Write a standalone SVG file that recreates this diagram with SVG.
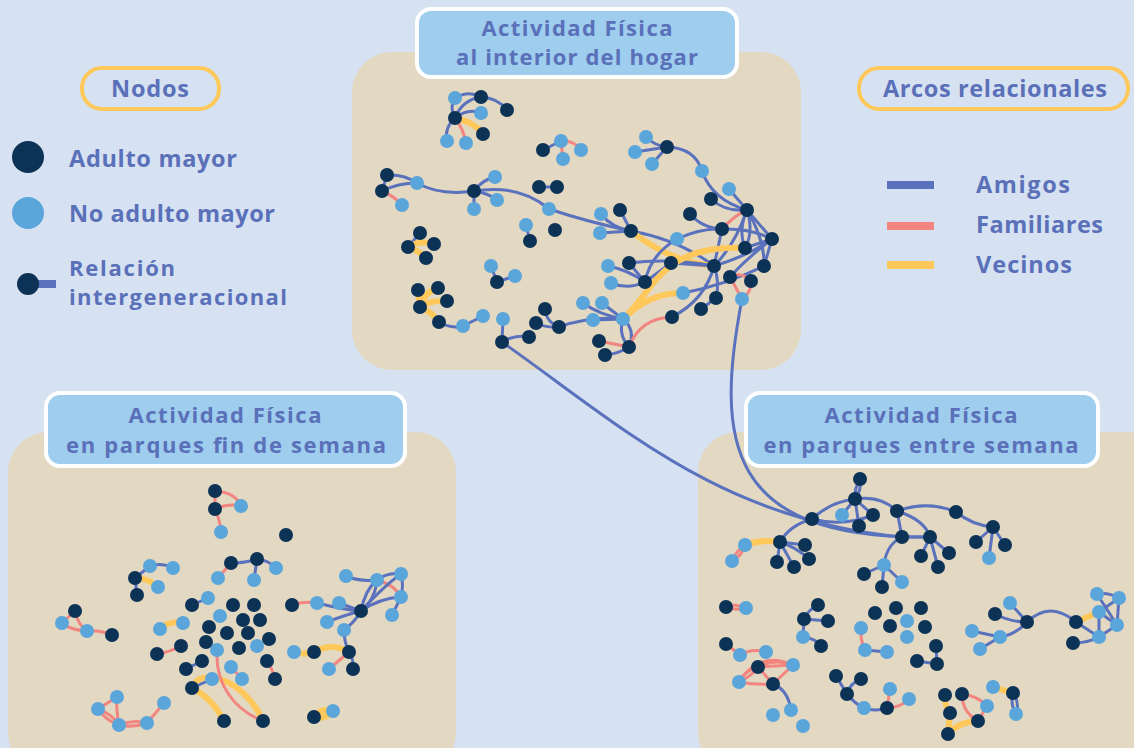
<svg xmlns="http://www.w3.org/2000/svg" width="1134" height="748" viewBox="0 0 1134 748">
<defs>
<style>
.a{stroke:#5a72bd;stroke-width:3;fill:none;stroke-linecap:round}
.f{stroke:#f2857f;stroke-width:3;fill:none;stroke-linecap:round}
.v{stroke:#ffc85a;stroke-width:6;fill:none;stroke-linecap:round}
.d{fill:#0c3256}
.l{fill:#5aa5da}
.txt{font-family:"Open Sans","Liberation Sans",sans-serif;font-weight:700;fill:#5a70b9;font-size:23.5px}
.two{font-size:22px}
.panel{fill:#e3d8c2}
.title{fill:#9ecdee;stroke:#ffffff;stroke-width:4}
.leg{fill:none;stroke:#ffc85a;stroke-width:4}
</style>
</defs>
<rect x="0" y="0" width="1134" height="748" fill="#d6e2f2"/>
<g id="panels">
<rect class="panel" x="352" y="52" width="449" height="318" rx="40"/>
<rect class="panel" x="8" y="432" width="448" height="340" rx="40"/>
<rect class="panel" x="698" y="432" width="470" height="340" rx="40"/>
</g>
<g id="title-top"><rect class="title" x="417" y="9" width="320" height="68" rx="14"/>
<text class="txt two" x="577" y="36" text-anchor="middle" textLength="191">Actividad Física</text>
<text class="txt two" x="577" y="65" text-anchor="middle" textLength="242">al interior del hogar</text></g>
<g id="title-bl"><rect class="title" x="46" y="393" width="359" height="73" rx="14"/>
<text class="txt two" x="225" y="423" text-anchor="middle" textLength="193">Actividad Física</text>
<text class="txt two" x="226" y="453" text-anchor="middle" textLength="320">en parques fin de semana</text></g>
<g id="title-br"><rect class="title" x="746" y="393" width="352" height="73" rx="14"/>
<text class="txt two" x="921" y="423" text-anchor="middle" textLength="193">Actividad Física</text>
<text class="txt two" x="921" y="453" text-anchor="middle" textLength="315">en parques entre semana</text></g>
<g id="legend-nodos"><rect class="leg" x="82" y="68" width="137" height="41" rx="20"/>
<text class="txt" x="150" y="97" text-anchor="middle" textLength="78">Nodos</text>
<circle class="d" cx="28" cy="157" r="16"/>
<text class="txt" x="69" y="167" textLength="168">Adulto mayor</text>
<circle class="l" cx="28" cy="213" r="16"/>
<text class="txt" x="69" y="222" textLength="206">No adulto mayor</text>
<rect x="35" y="280" width="21" height="8" fill="#5a72bd"/>
<circle class="d" cx="28" cy="284" r="11"/>
<text class="txt two" x="69" y="276" textLength="106">Relación</text>
<text class="txt two" x="69" y="305" textLength="218">intergeneracional</text></g>
<g id="legend-arcos"><rect class="leg" x="859" y="68" width="269" height="41" rx="20"/>
<text class="txt" x="995" y="97" text-anchor="middle" textLength="224">Arcos relacionales</text>
<rect x="887" y="181" width="47" height="8" fill="#5a72bd"/>
<rect x="887" y="222" width="47" height="8" fill="#f2857f"/>
<rect x="887" y="261" width="47" height="8" fill="#ffc85a"/>
<text class="txt" x="976" y="193" textLength="94">Amigos</text>
<text class="txt" x="976" y="233" textLength="127">Familiares</text>
<text class="txt" x="976" y="273" textLength="96">Vecinos</text></g>
<g id="connectors">
<path class="a" d="M455,98 Q468,90 481,97"/>
<path class="a" d="M481,97 Q498,98 507,110"/>
<path class="a" d="M455,118 Q449,108 455,98"/>
<path class="a" d="M455,118 Q468,108 481,113"/>
<path class="a" d="M455,118 Q462,100 481,97"/>
<path class="a" d="M455,118 Q444,128 447,141"/>
<path class="v" d="M455,118 Q474,122 483,134"/>
<path class="f" d="M455,118 Q463,128 466,143"/>
<path class="a" d="M543,150 L561,141"/>
<path class="f" d="M561,141 L563,159"/>
<path class="f" d="M561,141 Q574,140 581,150"/>
<path class="a" d="M387,175 Q404,174 417,183"/>
<path class="a" d="M382,191 Q398,183 417,183"/>
<path class="a" d="M387,175 L382,191"/>
<path class="f" d="M382,191 Q394,196 402,205"/>
<path class="a" d="M417,183 Q440,196 474,191"/>
<path class="a" d="M474,191 Q482,180 495,177"/>
<path class="a" d="M474,191 Q488,193 497,200"/>
<path class="a" d="M474,191 L474,209"/>
<path class="a" d="M474,191 Q520,184 549,209"/>
<path class="a" d="M549,209 Q588,222 631,231"/>
<path class="a" d="M539,187 L557,187"/>
<path class="a" d="M526,225 L530,241"/>
<path class="a" d="M420,233 L408,247"/>
<path class="v" d="M408,247 Q420,240 434,244"/>
<path class="v" d="M408,247 Q418,250 426,258"/>
<path class="a" d="M491,266 L497,282"/>
<path class="a" d="M497,282 L515,276"/>
<path class="v" d="M420,307 L418,290"/>
<path class="v" d="M420,307 Q424,292 438,288"/>
<path class="v" d="M420,307 Q430,300 447,301"/>
<path class="v" d="M420,307 Q432,312 439,322"/>
<path class="a" d="M439,322 Q450,329 463,326"/>
<path class="a" d="M463,326 L483,316"/>
<path class="a" d="M503,319 L502,342"/>
<path class="a" d="M502,342 Q515,334 529,337"/>
<path class="a" d="M545,309 Q546,322 559,327"/>
<path class="a" d="M536,323 Q546,328 559,327"/>
<path class="a" d="M559,327 Q590,316 623,319"/>
<path class="a" d="M583,303 Q600,315 623,319"/>
<path class="a" d="M602,303 L623,319"/>
<path class="a" d="M593,320 L623,319"/>
<path class="f" d="M599,341 L629,347"/>
<path class="a" d="M605,355 Q618,354 629,347"/>
<path class="a" d="M623,319 Q618,335 629,347"/>
<path class="a" d="M623,319 Q636,330 629,347"/>
<path class="f" d="M629,347 Q640,318 672,317"/>
<path class="a" d="M672,317 Q705,300 714,266"/>
<path class="a" d="M701,309 L716,298"/>
<path class="a" d="M716,298 Q720,282 714,266"/>
<path class="a" d="M646,137 Q655,146 667,147"/>
<path class="a" d="M635,152 L667,147"/>
<path class="a" d="M652,164 L667,147"/>
<path class="a" d="M667,147 Q695,148 702,171"/>
<path class="a" d="M702,171 Q712,200 747,210"/>
<path class="a" d="M729,189 L747,210"/>
<path class="a" d="M711,199 Q725,212 747,210"/>
<path class="a" d="M620,210 L631,231"/>
<path class="a" d="M601,214 Q612,228 631,231"/>
<path class="a" d="M600,233 L631,231"/>
<path class="a" d="M690,214 Q702,228 722,229"/>
<path class="a" d="M677,239 Q700,228 722,229"/>
<path class="f" d="M722,229 Q736,214 747,210"/>
<path class="a" d="M747,210 L772,239"/>
<path class="a" d="M722,229 Q750,228 772,239"/>
<path class="a" d="M747,210 Q738,230 745,248"/>
<path class="a" d="M747,210 Q754,232 745,248"/>
<path class="a" d="M722,229 L714,266"/>
<path class="a" d="M747,210 Q735,245 714,266"/>
<path class="a" d="M747,210 Q765,240 764,266"/>
<path class="a" d="M772,239 L764,266"/>
<path class="a" d="M772,239 Q750,255 714,266"/>
<path class="a" d="M772,239 L745,248"/>
<path class="a" d="M631,231 Q680,240 714,266"/>
<path class="v" d="M631,231 Q670,262 714,266"/>
<path class="a" d="M629,263 Q670,258 714,266"/>
<path class="a" d="M671,263 L714,266"/>
<path class="a" d="M629,263 L645,282"/>
<path class="a" d="M608,266 Q628,270 645,282"/>
<path class="a" d="M611,283 Q628,290 645,282"/>
<path class="a" d="M645,282 Q650,255 677,239"/>
<path class="a" d="M671,263 L645,282"/>
<path class="v" d="M623,319 C655,290 660,245 745,248"/>
<path class="v" d="M623,319 Q650,292 683,293"/>
<path class="a" d="M683,293 Q725,285 764,266"/>
<path class="a" d="M730,277 Q745,260 772,239"/>
<path class="f" d="M730,277 Q741,271 751,281"/>
<path class="f" d="M730,277 L742,299"/>
<path class="f" d="M751,281 Q752,292 742,299"/>
<path class="a" d="M502,342 C620,425 720,520 902,537"/>
<path class="a" d="M742,299 C715,440 725,540 930,537"/>
<path class="f" d="M215,491 L215,509"/>
<path class="f" d="M215,491 Q235,492 241,506"/>
<path class="f" d="M215,509 Q228,503 241,506"/>
<path class="f" d="M215,509 Q220,520 221,532"/>
<path class="a" d="M231,563 Q245,563 257,559"/>
<path class="a" d="M257,559 Q268,560 276,568"/>
<path class="a" d="M257,559 L254,580"/>
<path class="f" d="M231,563 L218,578"/>
<path class="a" d="M135,578 L150,566"/>
<path class="a" d="M150,566 Q162,562 173,568"/>
<path class="v" d="M135,578 Q148,578 158,587"/>
<path class="a" d="M135,578 L137,595"/>
<path class="f" d="M75,611 L62,623"/>
<path class="f" d="M75,611 Q78,625 87,631"/>
<path class="f" d="M62,623 Q70,630 87,631"/>
<path class="f" d="M87,631 Q100,630 112,635"/>
<path class="a" d="M192,605 L208,598"/>
<path class="v" d="M160,629 Q170,620 183,623"/>
<path class="f" d="M157,654 Q170,652 181,646"/>
<path class="a" d="M186,669 L202,661"/>
<path class="f" d="M231,667 L242,679"/>
<path class="f" d="M267,661 Q272,668 275,679"/>
<path class="a" d="M192,688 L212,679"/>
<path class="v" d="M192,688 C200,665 245,680 263,721"/>
<path class="v" d="M192,688 Q212,698 224,721"/>
<path class="f" d="M217,650 C215,685 235,710 263,721"/>
<path class="f" d="M292,605 Q303,601 317,603"/>
<path class="a" d="M317,603 Q345,610 361,611"/>
<path class="a" d="M339,603 L361,611"/>
<path class="a" d="M327,622 Q345,615 361,611"/>
<path class="a" d="M344,630 Q355,622 361,611"/>
<path class="a" d="M346,576 Q360,582 377,580"/>
<path class="a" d="M377,580 Q365,590 361,611"/>
<path class="a" d="M377,580 Q375,600 361,611"/>
<path class="a" d="M401,574 Q388,572 377,580"/>
<path class="f" d="M377,580 Q395,585 401,597"/>
<path class="a" d="M401,574 Q404,585 401,597"/>
<path class="a" d="M401,597 Q380,598 361,611"/>
<path class="a" d="M392,615 L401,597"/>
<path class="a" d="M361,611 Q385,585 401,574"/>
<path class="a" d="M344,630 Q344,642 349,652"/>
<path class="v" d="M294,652 Q303,655 314,652"/>
<path class="v" d="M314,652 Q332,642 349,652"/>
<path class="f" d="M349,652 L329,669"/>
<path class="a" d="M349,652 Q354,660 353,669"/>
<path class="v" d="M314,717 Q322,707 333,711"/>
<path class="v" d="M314,717 Q325,720 333,711"/>
<path class="f" d="M117,697 L98,709"/>
<path class="f" d="M117,697 Q116,710 119,725"/>
<path class="f" d="M98,709 Q105,720 119,725"/>
<path class="f" d="M98,709 Q112,714 119,725"/>
<path class="f" d="M119,725 Q133,719 147,723"/>
<path class="f" d="M119,725 Q133,728 147,723"/>
<path class="f" d="M147,723 L164,703"/>
<path class="a" d="M860,479 Q854,489 855,499"/>
<path class="a" d="M860,479 Q862,490 855,499"/>
<path class="a" d="M855,499 L842,515"/>
<path class="a" d="M855,499 L873,515"/>
<path class="a" d="M855,499 L859,526"/>
<path class="a" d="M855,499 Q880,495 897,511"/>
<path class="a" d="M855,499 Q830,502 812,519"/>
<path class="a" d="M812,519 Q843,527 873,515"/>
<path class="a" d="M812,519 Q790,525 780,542"/>
<path class="a" d="M897,511 Q928,500 956,512"/>
<path class="a" d="M956,512 Q972,525 993,527"/>
<path class="a" d="M993,527 L976,542"/>
<path class="a" d="M993,527 L1005,545"/>
<path class="a" d="M993,527 L989,558"/>
<path class="a" d="M897,511 L902,537"/>
<path class="a" d="M902,537 L930,537"/>
<path class="a" d="M897,511 Q925,520 930,537"/>
<path class="a" d="M930,537 L921,556"/>
<path class="a" d="M930,537 L949,553"/>
<path class="a" d="M930,537 L938,567"/>
<path class="v" d="M780,542 Q762,539 745,545"/>
<path class="f" d="M745,545 Q736,551 732,561"/>
<path class="f" d="M745,545 Q742,556 732,561"/>
<path class="a" d="M780,542 L805,545"/>
<path class="a" d="M780,542 Q796,547 809,559"/>
<path class="a" d="M780,542 L777,562"/>
<path class="a" d="M780,542 L794,567"/>
<path class="a" d="M902,537 Q886,545 884,565"/>
<path class="a" d="M884,565 L864,574"/>
<path class="a" d="M884,565 L902,582"/>
<path class="a" d="M884,565 L882,587"/>
<path class="a" d="M1027,622 Q1010,622 995,614"/>
<path class="a" d="M1027,622 L1010,603"/>
<path class="a" d="M1027,622 Q1015,635 1000,637"/>
<path class="a" d="M1000,637 L972,631"/>
<path class="a" d="M1000,637 L980,649"/>
<path class="a" d="M1027,622 Q1050,600 1076,622"/>
<path class="v" d="M1076,622 L1099,612"/>
<path class="a" d="M1076,622 L1099,637"/>
<path class="a" d="M1073,643 Q1088,643 1099,637"/>
<path class="a" d="M1097,594 Q1108,592 1119,598"/>
<path class="a" d="M1099,612 L1119,598"/>
<path class="a" d="M1097,594 L1117,625"/>
<path class="a" d="M1099,612 L1117,625"/>
<path class="a" d="M1099,612 L1099,637"/>
<path class="a" d="M1117,625 L1099,637"/>
<path class="a" d="M1119,598 L1117,625"/>
<path class="f" d="M726,607 Q736,603 746,608"/>
<path class="f" d="M726,607 Q736,611 746,608"/>
<path class="a" d="M818,605 Q808,610 804,619"/>
<path class="a" d="M804,619 L828,621"/>
<path class="a" d="M804,619 L803,637"/>
<path class="a" d="M803,637 Q815,638 821,646"/>
<path class="f" d="M726,644 L740,655"/>
<path class="f" d="M740,655 Q752,648 766,652"/>
<path class="f" d="M758,667 Q775,658 793,665"/>
<path class="f" d="M758,667 Q776,666 793,665"/>
<path class="f" d="M739,682 Q745,670 758,667"/>
<path class="f" d="M739,682 Q752,676 758,667"/>
<path class="f" d="M739,682 Q755,685 773,684"/>
<path class="f" d="M739,682 Q760,650 793,665"/>
<path class="f" d="M758,667 L773,684"/>
<path class="f" d="M773,684 L793,665"/>
<path class="a" d="M773,684 Q788,690 791,710"/>
<path class="a" d="M836,676 L847,694"/>
<path class="a" d="M861,679 Q850,683 847,694"/>
<path class="a" d="M847,694 Q855,704 864,708"/>
<path class="a" d="M864,708 Q875,712 887,708"/>
<path class="f" d="M887,708 L890,689"/>
<path class="f" d="M887,708 Q900,708 909,699"/>
<path class="f" d="M861,628 Q860,640 865,650"/>
<path class="a" d="M865,650 L887,652"/>
<path class="a" d="M936,646 L937,664"/>
<path class="a" d="M917,661 L937,664"/>
<path class="v" d="M945,695 Q944,705 950,713"/>
<path class="v" d="M950,713 L948,734"/>
<path class="v" d="M948,734 Q958,722 978,721"/>
<path class="f" d="M962,694 Q978,696 987,706"/>
<path class="f" d="M962,694 Q962,712 978,721"/>
<path class="f" d="M987,706 L978,721"/>
<path class="v" d="M993,687 L1013,693"/>
<path class="a" d="M1013,693 Q1010,704 1016,714"/>
<path class="a" d="M1013,693 Q1020,703 1016,714"/>
</g>
<g id="nodes-top">
<g id="t1"><circle class="l" cx="455" cy="98" r="7"/></g>
<g id="t2"><circle class="d" cx="481" cy="97" r="7"/></g>
<g id="t3"><circle class="d" cx="507" cy="110" r="7"/></g>
<g id="t4"><circle class="l" cx="481" cy="113" r="7"/></g>
<g id="t5"><circle class="d" cx="455" cy="118" r="7"/></g>
<g id="t6"><circle class="d" cx="483" cy="134" r="7"/></g>
<g id="t7"><circle class="l" cx="447" cy="141" r="7"/></g>
<g id="t8"><circle class="l" cx="466" cy="143" r="7"/></g>
<g id="t9"><circle class="d" cx="543" cy="150" r="7"/></g>
<g id="t10"><circle class="l" cx="561" cy="141" r="7"/></g>
<g id="t11"><circle class="l" cx="563" cy="159" r="7"/></g>
<g id="t12"><circle class="l" cx="581" cy="150" r="7"/></g>
<g id="t13"><circle class="d" cx="387" cy="175" r="7"/></g>
<g id="t14"><circle class="d" cx="382" cy="191" r="7"/></g>
<g id="t15"><circle class="l" cx="417" cy="183" r="7"/></g>
<g id="t16"><circle class="l" cx="402" cy="205" r="7"/></g>
<g id="t17"><circle class="d" cx="474" cy="191" r="7"/></g>
<g id="t18"><circle class="l" cx="495" cy="177" r="7"/></g>
<g id="t19"><circle class="l" cx="497" cy="200" r="7"/></g>
<g id="t20"><circle class="l" cx="474" cy="209" r="7"/></g>
<g id="t21"><circle class="l" cx="549" cy="209" r="7"/></g>
<g id="t22"><circle class="d" cx="539" cy="187" r="7"/></g>
<g id="t23"><circle class="d" cx="557" cy="187" r="7"/></g>
<g id="t24"><circle class="l" cx="526" cy="225" r="7"/></g>
<g id="t25"><circle class="d" cx="530" cy="241" r="7"/></g>
<g id="t26"><circle class="d" cx="555" cy="230" r="7"/></g>
<g id="t27"><circle class="d" cx="420" cy="233" r="7"/></g>
<g id="t28"><circle class="d" cx="408" cy="247" r="7"/></g>
<g id="t29"><circle class="d" cx="434" cy="244" r="7"/></g>
<g id="t30"><circle class="d" cx="426" cy="258" r="7"/></g>
<g id="t31"><circle class="l" cx="491" cy="266" r="7"/></g>
<g id="t32"><circle class="d" cx="497" cy="282" r="7"/></g>
<g id="t33"><circle class="l" cx="515" cy="276" r="7"/></g>
<g id="t34"><circle class="d" cx="418" cy="290" r="7"/></g>
<g id="t35"><circle class="d" cx="438" cy="288" r="7"/></g>
<g id="t36"><circle class="d" cx="447" cy="301" r="7"/></g>
<g id="t37"><circle class="d" cx="420" cy="307" r="7"/></g>
<g id="t38"><circle class="d" cx="439" cy="322" r="7"/></g>
<g id="t39"><circle class="l" cx="463" cy="326" r="7"/></g>
<g id="t40"><circle class="l" cx="483" cy="316" r="7"/></g>
<g id="t41"><circle class="l" cx="503" cy="319" r="7"/></g>
<g id="t42"><circle class="d" cx="502" cy="342" r="7"/></g>
<g id="t43"><circle class="d" cx="529" cy="337" r="7"/></g>
<g id="t44"><circle class="d" cx="545" cy="309" r="7"/></g>
<g id="t45"><circle class="d" cx="536" cy="323" r="7"/></g>
<g id="t46"><circle class="d" cx="559" cy="327" r="7"/></g>
<g id="t47"><circle class="l" cx="583" cy="303" r="7"/></g>
<g id="t48"><circle class="l" cx="602" cy="303" r="7"/></g>
<g id="t49"><circle class="l" cx="593" cy="320" r="7"/></g>
<g id="t50"><circle class="l" cx="623" cy="319" r="7"/></g>
<g id="t51"><circle class="d" cx="599" cy="341" r="7"/></g>
<g id="t52"><circle class="d" cx="629" cy="347" r="7"/></g>
<g id="t53"><circle class="d" cx="605" cy="355" r="7"/></g>
<g id="t54"><circle class="d" cx="672" cy="317" r="7"/></g>
<g id="t55"><circle class="d" cx="701" cy="309" r="7"/></g>
<g id="t56"><circle class="d" cx="716" cy="298" r="7"/></g>
<g id="t57"><circle class="l" cx="646" cy="137" r="7"/></g>
<g id="t58"><circle class="l" cx="635" cy="152" r="7"/></g>
<g id="t59"><circle class="d" cx="667" cy="147" r="7"/></g>
<g id="t60"><circle class="l" cx="652" cy="164" r="7"/></g>
<g id="t61"><circle class="l" cx="702" cy="171" r="7"/></g>
<g id="t62"><circle class="d" cx="714" cy="266" r="7"/></g>
<g id="t63"><circle class="l" cx="729" cy="189" r="7"/></g>
<g id="t64"><circle class="d" cx="711" cy="199" r="7"/></g>
<g id="t65"><circle class="d" cx="747" cy="210" r="7"/></g>
<g id="t66"><circle class="d" cx="620" cy="210" r="7"/></g>
<g id="t67"><circle class="l" cx="601" cy="214" r="7"/></g>
<g id="t68"><circle class="l" cx="600" cy="233" r="7"/></g>
<g id="t69"><circle class="d" cx="631" cy="231" r="7"/></g>
<g id="t70"><circle class="d" cx="690" cy="214" r="7"/></g>
<g id="t71"><circle class="d" cx="722" cy="229" r="7"/></g>
<g id="t72"><circle class="l" cx="677" cy="239" r="7"/></g>
<g id="t73"><circle class="d" cx="772" cy="239" r="7"/></g>
<g id="t74"><circle class="d" cx="745" cy="248" r="7"/></g>
<g id="t75"><circle class="d" cx="629" cy="263" r="7"/></g>
<g id="t76"><circle class="l" cx="608" cy="266" r="7"/></g>
<g id="t77"><circle class="d" cx="671" cy="263" r="7"/></g>
<g id="t78"><circle class="d" cx="764" cy="266" r="7"/></g>
<g id="t79"><circle class="l" cx="683" cy="293" r="7"/></g>
<g id="t80"><circle class="d" cx="645" cy="282" r="7"/></g>
<g id="t81"><circle class="l" cx="611" cy="283" r="7"/></g>
<g id="t82"><circle class="d" cx="730" cy="277" r="7"/></g>
<g id="t83"><circle class="d" cx="751" cy="281" r="7"/></g>
<g id="t84"><circle class="l" cx="742" cy="299" r="7"/></g>
</g>
<g id="nodes-bl">
<g id="b1"><circle class="d" cx="215" cy="491" r="7"/></g>
<g id="b2"><circle class="d" cx="215" cy="509" r="7"/></g>
<g id="b3"><circle class="l" cx="241" cy="506" r="7"/></g>
<g id="b4"><circle class="l" cx="221" cy="532" r="7"/></g>
<g id="b5"><circle class="d" cx="286" cy="535" r="7"/></g>
<g id="b6"><circle class="d" cx="231" cy="563" r="7"/></g>
<g id="b7"><circle class="d" cx="257" cy="559" r="7"/></g>
<g id="b8"><circle class="l" cx="276" cy="568" r="7"/></g>
<g id="b9"><circle class="l" cx="218" cy="578" r="7"/></g>
<g id="b10"><circle class="l" cx="254" cy="580" r="7"/></g>
<g id="b11"><circle class="l" cx="150" cy="566" r="7"/></g>
<g id="b12"><circle class="l" cx="173" cy="568" r="7"/></g>
<g id="b13"><circle class="d" cx="135" cy="578" r="7"/></g>
<g id="b14"><circle class="l" cx="158" cy="587" r="7"/></g>
<g id="b15"><circle class="d" cx="137" cy="595" r="7"/></g>
<g id="b16"><circle class="d" cx="75" cy="611" r="7"/></g>
<g id="b17"><circle class="l" cx="62" cy="623" r="7"/></g>
<g id="b18"><circle class="l" cx="87" cy="631" r="7"/></g>
<g id="b19"><circle class="d" cx="112" cy="635" r="7"/></g>
<g id="b20"><circle class="l" cx="208" cy="598" r="7"/></g>
<g id="b21"><circle class="d" cx="192" cy="605" r="7"/></g>
<g id="b22"><circle class="d" cx="233" cy="605" r="7"/></g>
<g id="b23"><circle class="d" cx="254" cy="605" r="7"/></g>
<g id="b24"><circle class="l" cx="220" cy="616" r="7"/></g>
<g id="b25"><circle class="d" cx="243" cy="620" r="7"/></g>
<g id="b26"><circle class="d" cx="260" cy="620" r="7"/></g>
<g id="b27"><circle class="l" cx="183" cy="623" r="7"/></g>
<g id="b28"><circle class="l" cx="160" cy="629" r="7"/></g>
<g id="b29"><circle class="d" cx="209" cy="627" r="7"/></g>
<g id="b30"><circle class="d" cx="227" cy="633" r="7"/></g>
<g id="b31"><circle class="d" cx="248" cy="633" r="7"/></g>
<g id="b32"><circle class="d" cx="269" cy="639" r="7"/></g>
<g id="b33"><circle class="d" cx="206" cy="642" r="7"/></g>
<g id="b34"><circle class="d" cx="181" cy="646" r="7"/></g>
<g id="b35"><circle class="d" cx="157" cy="654" r="7"/></g>
<g id="b36"><circle class="l" cx="217" cy="650" r="7"/></g>
<g id="b37"><circle class="d" cx="239" cy="648" r="7"/></g>
<g id="b38"><circle class="l" cx="257" cy="646" r="7"/></g>
<g id="b39"><circle class="d" cx="202" cy="661" r="7"/></g>
<g id="b40"><circle class="d" cx="186" cy="669" r="7"/></g>
<g id="b41"><circle class="l" cx="231" cy="667" r="7"/></g>
<g id="b42"><circle class="d" cx="267" cy="661" r="7"/></g>
<g id="b43"><circle class="l" cx="242" cy="679" r="7"/></g>
<g id="b44"><circle class="d" cx="275" cy="679" r="7"/></g>
<g id="b45"><circle class="l" cx="212" cy="679" r="7"/></g>
<g id="b46"><circle class="d" cx="192" cy="688" r="7"/></g>
<g id="b47"><circle class="d" cx="224" cy="721" r="7"/></g>
<g id="b48"><circle class="d" cx="263" cy="721" r="7"/></g>
<g id="b49"><circle class="d" cx="292" cy="605" r="7"/></g>
<g id="b50"><circle class="l" cx="317" cy="603" r="7"/></g>
<g id="b51"><circle class="l" cx="339" cy="603" r="7"/></g>
<g id="b52"><circle class="l" cx="327" cy="622" r="7"/></g>
<g id="b53"><circle class="l" cx="344" cy="630" r="7"/></g>
<g id="b54"><circle class="d" cx="361" cy="611" r="7"/></g>
<g id="b55"><circle class="l" cx="346" cy="576" r="7"/></g>
<g id="b56"><circle class="l" cx="377" cy="580" r="7"/></g>
<g id="b57"><circle class="l" cx="401" cy="574" r="7"/></g>
<g id="b58"><circle class="l" cx="401" cy="597" r="7"/></g>
<g id="b59"><circle class="l" cx="392" cy="615" r="7"/></g>
<g id="b60"><circle class="l" cx="294" cy="652" r="7"/></g>
<g id="b61"><circle class="d" cx="314" cy="652" r="7"/></g>
<g id="b62"><circle class="d" cx="349" cy="652" r="7"/></g>
<g id="b63"><circle class="l" cx="329" cy="669" r="7"/></g>
<g id="b64"><circle class="d" cx="353" cy="669" r="7"/></g>
<g id="b65"><circle class="d" cx="314" cy="717" r="7"/></g>
<g id="b66"><circle class="l" cx="333" cy="711" r="7"/></g>
<g id="b67"><circle class="l" cx="117" cy="697" r="7"/></g>
<g id="b68"><circle class="l" cx="98" cy="709" r="7"/></g>
<g id="b69"><circle class="l" cx="119" cy="725" r="7"/></g>
<g id="b70"><circle class="l" cx="147" cy="723" r="7"/></g>
<g id="b71"><circle class="l" cx="164" cy="703" r="7"/></g>
</g>
<g id="nodes-br">
<g id="r1"><circle class="d" cx="860" cy="479" r="7"/></g>
<g id="r2"><circle class="d" cx="855" cy="499" r="7"/></g>
<g id="r3"><circle class="l" cx="842" cy="515" r="7"/></g>
<g id="r4"><circle class="d" cx="873" cy="515" r="7"/></g>
<g id="r5"><circle class="d" cx="859" cy="526" r="7"/></g>
<g id="r6"><circle class="d" cx="812" cy="519" r="7"/></g>
<g id="r7"><circle class="d" cx="897" cy="511" r="7"/></g>
<g id="r8"><circle class="d" cx="956" cy="512" r="7"/></g>
<g id="r9"><circle class="d" cx="993" cy="527" r="7"/></g>
<g id="r10"><circle class="d" cx="976" cy="542" r="7"/></g>
<g id="r11"><circle class="d" cx="1005" cy="545" r="7"/></g>
<g id="r12"><circle class="l" cx="989" cy="558" r="7"/></g>
<g id="r13"><circle class="d" cx="902" cy="537" r="7"/></g>
<g id="r14"><circle class="d" cx="930" cy="537" r="7"/></g>
<g id="r15"><circle class="d" cx="921" cy="556" r="7"/></g>
<g id="r16"><circle class="d" cx="949" cy="553" r="7"/></g>
<g id="r17"><circle class="d" cx="938" cy="567" r="7"/></g>
<g id="r18"><circle class="d" cx="780" cy="542" r="7"/></g>
<g id="r19"><circle class="l" cx="745" cy="545" r="7"/></g>
<g id="r20"><circle class="l" cx="732" cy="561" r="7"/></g>
<g id="r21"><circle class="d" cx="805" cy="545" r="7"/></g>
<g id="r22"><circle class="d" cx="809" cy="559" r="7"/></g>
<g id="r23"><circle class="d" cx="777" cy="562" r="7"/></g>
<g id="r24"><circle class="d" cx="794" cy="567" r="7"/></g>
<g id="r25"><circle class="l" cx="884" cy="565" r="7"/></g>
<g id="r26"><circle class="d" cx="864" cy="574" r="7"/></g>
<g id="r27"><circle class="l" cx="902" cy="582" r="7"/></g>
<g id="r28"><circle class="d" cx="882" cy="587" r="7"/></g>
<g id="r29"><circle class="d" cx="1027" cy="622" r="7"/></g>
<g id="r30"><circle class="d" cx="995" cy="614" r="7"/></g>
<g id="r31"><circle class="l" cx="1010" cy="603" r="7"/></g>
<g id="r32"><circle class="l" cx="972" cy="631" r="7"/></g>
<g id="r33"><circle class="l" cx="1000" cy="637" r="7"/></g>
<g id="r34"><circle class="l" cx="980" cy="649" r="7"/></g>
<g id="r35"><circle class="d" cx="1076" cy="622" r="7"/></g>
<g id="r36"><circle class="l" cx="1099" cy="612" r="7"/></g>
<g id="r37"><circle class="l" cx="1097" cy="594" r="7"/></g>
<g id="r38"><circle class="l" cx="1119" cy="598" r="7"/></g>
<g id="r39"><circle class="l" cx="1117" cy="625" r="7"/></g>
<g id="r40"><circle class="l" cx="1099" cy="637" r="7"/></g>
<g id="r41"><circle class="d" cx="1073" cy="643" r="7"/></g>
<g id="r42"><circle class="d" cx="726" cy="607" r="7"/></g>
<g id="r43"><circle class="l" cx="746" cy="608" r="7"/></g>
<g id="r44"><circle class="d" cx="818" cy="605" r="7"/></g>
<g id="r45"><circle class="d" cx="804" cy="619" r="7"/></g>
<g id="r46"><circle class="d" cx="828" cy="621" r="7"/></g>
<g id="r47"><circle class="l" cx="803" cy="637" r="7"/></g>
<g id="r48"><circle class="d" cx="821" cy="646" r="7"/></g>
<g id="r49"><circle class="d" cx="726" cy="644" r="7"/></g>
<g id="r50"><circle class="l" cx="740" cy="655" r="7"/></g>
<g id="r51"><circle class="l" cx="766" cy="652" r="7"/></g>
<g id="r52"><circle class="d" cx="758" cy="667" r="7"/></g>
<g id="r53"><circle class="l" cx="793" cy="665" r="7"/></g>
<g id="r54"><circle class="l" cx="739" cy="682" r="7"/></g>
<g id="r55"><circle class="d" cx="773" cy="684" r="7"/></g>
<g id="r56"><circle class="l" cx="791" cy="710" r="7"/></g>
<g id="r57"><circle class="l" cx="773" cy="715" r="7"/></g>
<g id="r58"><circle class="l" cx="803" cy="726" r="7"/></g>
<g id="r59"><circle class="d" cx="836" cy="676" r="7"/></g>
<g id="r60"><circle class="d" cx="861" cy="679" r="7"/></g>
<g id="r61"><circle class="d" cx="847" cy="694" r="7"/></g>
<g id="r62"><circle class="l" cx="864" cy="708" r="7"/></g>
<g id="r63"><circle class="d" cx="887" cy="708" r="7"/></g>
<g id="r64"><circle class="l" cx="890" cy="689" r="7"/></g>
<g id="r65"><circle class="l" cx="909" cy="699" r="7"/></g>
<g id="r66"><circle class="l" cx="861" cy="628" r="7"/></g>
<g id="r67"><circle class="l" cx="865" cy="650" r="7"/></g>
<g id="r68"><circle class="l" cx="887" cy="652" r="7"/></g>
<g id="r69"><circle class="d" cx="875" cy="613" r="7"/></g>
<g id="r70"><circle class="d" cx="896" cy="608" r="7"/></g>
<g id="r71"><circle class="d" cx="921" cy="608" r="7"/></g>
<g id="r72"><circle class="d" cx="890" cy="626" r="7"/></g>
<g id="r73"><circle class="l" cx="907" cy="621" r="7"/></g>
<g id="r74"><circle class="d" cx="925" cy="627" r="7"/></g>
<g id="r75"><circle class="l" cx="907" cy="637" r="7"/></g>
<g id="r76"><circle class="d" cx="936" cy="646" r="7"/></g>
<g id="r77"><circle class="d" cx="917" cy="661" r="7"/></g>
<g id="r78"><circle class="d" cx="937" cy="664" r="7"/></g>
<g id="r79"><circle class="d" cx="945" cy="695" r="7"/></g>
<g id="r80"><circle class="d" cx="962" cy="694" r="7"/></g>
<g id="r81"><circle class="l" cx="987" cy="706" r="7"/></g>
<g id="r82"><circle class="d" cx="950" cy="713" r="7"/></g>
<g id="r83"><circle class="d" cx="978" cy="721" r="7"/></g>
<g id="r84"><circle class="d" cx="948" cy="734" r="7"/></g>
<g id="r85"><circle class="l" cx="993" cy="687" r="7"/></g>
<g id="r86"><circle class="d" cx="1013" cy="693" r="7"/></g>
<g id="r87"><circle class="l" cx="1016" cy="714" r="7"/></g>
</g>
</svg>
